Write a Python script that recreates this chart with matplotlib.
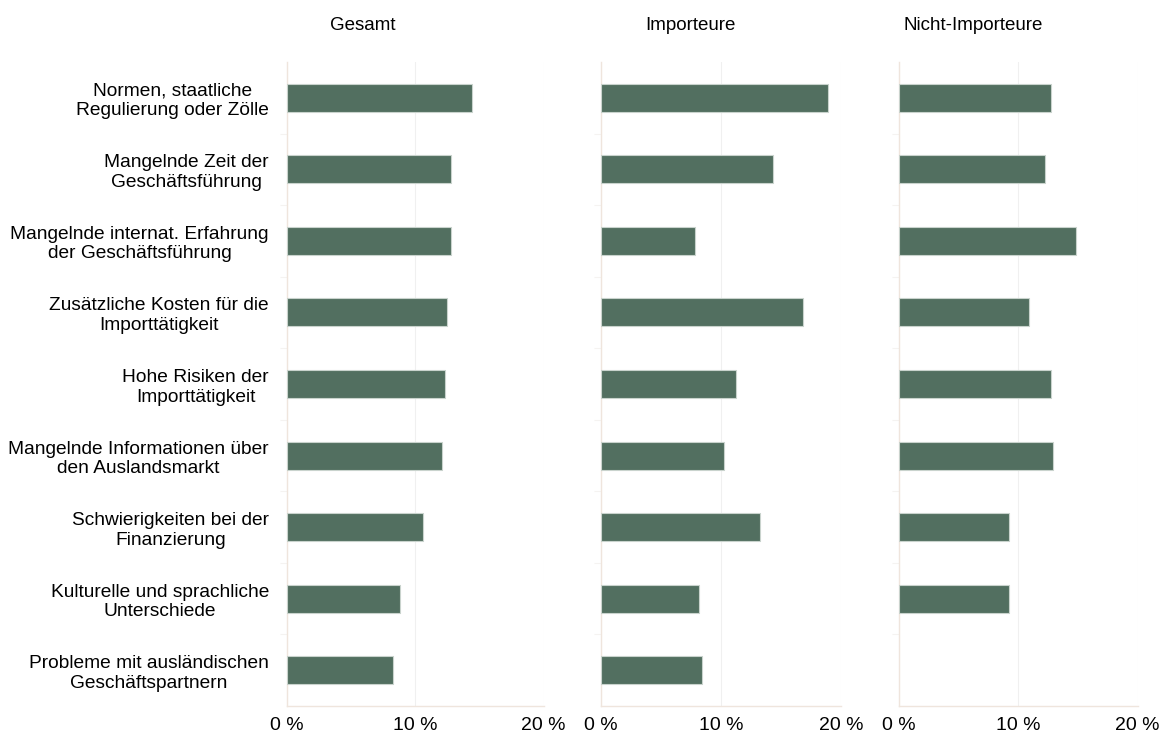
import matplotlib

matplotlib.use("Agg")
import matplotlib.pyplot as plt
from matplotlib.ticker import FixedLocator

plt.rcParams["font.family"] = ["Liberation Sans", "DejaVu Sans"]

CATEGORIES = [
    "Normen, staatliche\nRegulierung oder Zölle",
    "Mangelnde Zeit der\nGeschäftsführung",
    "Mangelnde internat. Erfahrung\nder Geschäftsführung",
    "Zusätzliche Kosten für die\nImporttätigkeit",
    "Hohe Risiken der\nImporttätigkeit",
    "Mangelnde Informationen über\nden Auslandsmarkt",
    "Schwierigkeiten bei der\nFinanzierung",
    "Kulturelle und sprachliche\nUnterschiede",
    "Probleme mit ausländischen\nGeschäftspartnern",
]

GESAMT = [14.4, 12.8, 12.8, 12.5, 12.3, 12.1, 10.6, 8.8, 8.3]
IMPORTEURE = [18.9, 14.3, 7.8, 16.8, 11.2, 10.2, 13.2, 8.1, 8.4]
NICHT_IMPORTEURE = [12.7, 12.2, 14.8, 10.9, 12.7, 12.9, 9.2, 9.2, 0.0]

PANEL_TITLES = ["Gesamt", "Importeure", "Nicht-Importeure"]
XTICKS = [0, 10, 20]
XTICKLABELS = ["0 %", "10 %", "20 %"]

BAR = "#526f60"
BAR_EDGE = "#c9d3cd"
SPINE = "#efe5dd"
GRID = "#f0f0f0"

W, H = 1163, 740
fig = plt.figure(figsize=(W / 100, H / 100), dpi=100)

# panel extents in pixels: (left, right)
extents = [(287, 543.6), (601.3, 841.3), (899, 1137.6)]
title_x = [363, 690, 973]
top, bottom = 62, 706

y = list(range(len(CATEGORIES)))
for i, (vals, (x0, x1)) in enumerate(zip([GESAMT, IMPORTEURE, NICHT_IMPORTEURE], extents)):
    ax = fig.add_axes([x0 / W, (H - bottom) / H, (x1 - x0) / W, (bottom - top) / H])
    edges = [BAR_EDGE if v > 0 else "none" for v in vals]
    ax.barh(y, vals, height=0.39, color=BAR, edgecolor=edges, linewidth=0.8, zorder=3)
    ax.set_xlim(0, 20)
    ax.set_ylim(len(CATEGORIES) - 0.5, -0.5)
    ax.set_xticks(XTICKS)
    ax.set_xticklabels(XTICKLABELS, fontsize=14)
    ax.tick_params(axis="x", length=0, pad=8)
    ax.grid(axis="x", color=GRID, linewidth=0.8, zorder=0)
    ax.set_yticks(y)
    if i == 0:
        ax.set_yticklabels(CATEGORIES, fontsize=13.8, ha="right", multialignment="center",
                           linespacing=1.2)
        ax.tick_params(axis="y", length=0, pad=13)
    else:
        ax.set_yticklabels([])
        ax.tick_params(axis="y", length=0)
    # faint separators between categories
    ax.yaxis.set_minor_locator(FixedLocator([k + 0.5 for k in range(len(CATEGORIES) - 1)]))
    ax.tick_params(axis="y", which="minor", length=5, color="#f5f3f1", width=0.8)
    for side in ("top", "right"):
        ax.spines[side].set_visible(False)
    for side in ("left", "bottom"):
        ax.spines[side].set_color(SPINE)
        ax.spines[side].set_linewidth(1.0)
    fig.text(title_x[i] / W, 1 - 25 / H, PANEL_TITLES[i], ha="center", va="center", fontsize=13.5)

fig.savefig("out.png", dpi=100)
